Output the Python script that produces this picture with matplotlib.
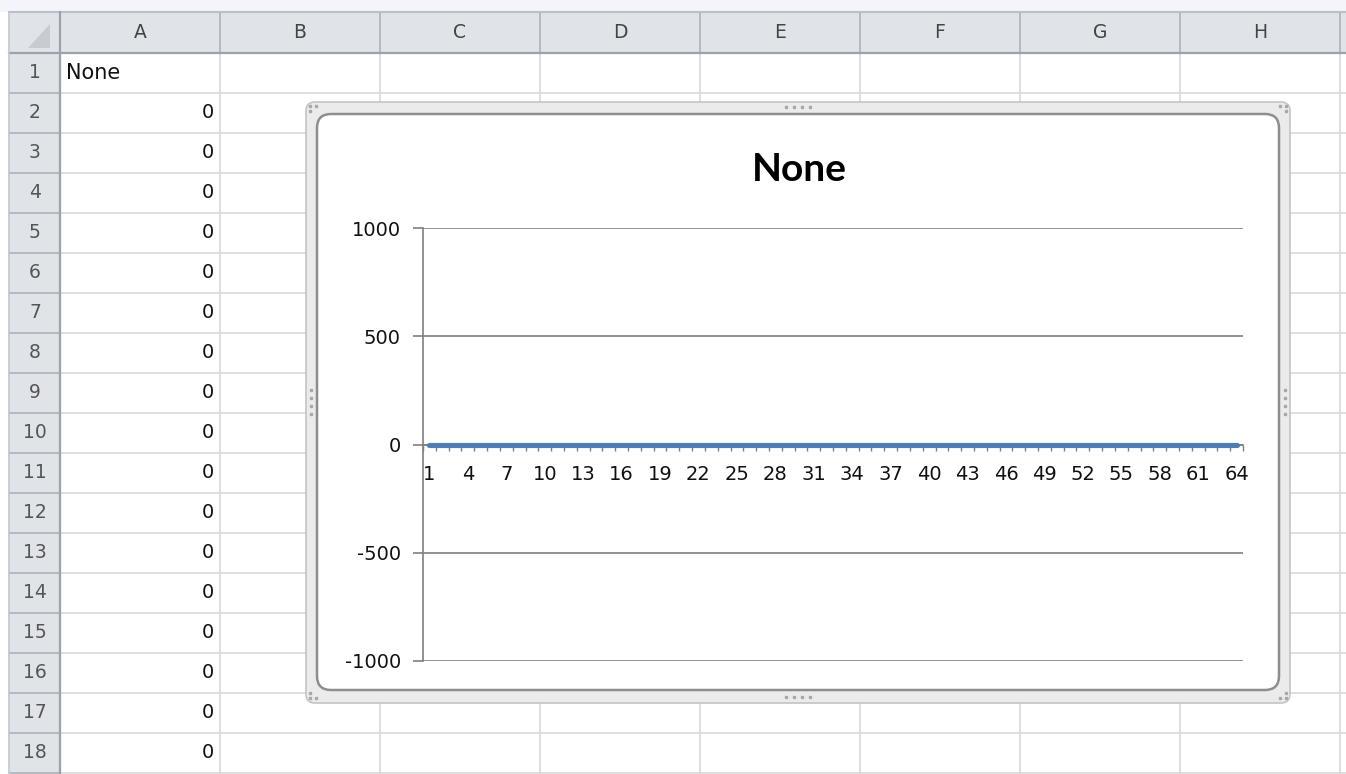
import matplotlib.pyplot as plt
from matplotlib.patches import Rectangle, FancyBboxPatch, Polygon

# Sheet contents
column_letters = ["A", "B", "C", "D", "E", "F", "G", "H"]
row_numbers = list(range(1, 19))
cell_a1 = "None"
column_a_values = [0, 0, 0, 0, 0, 0, 0, 0, 0, 0, 0, 0, 0, 0, 0, 0, 0]

# Chart contents
chart_title = "None"
categories = list(range(1, 65))
series_values = [0, 0, 0, 0, 0, 0, 0, 0, 0, 0, 0, 0, 0, 0, 0, 0,
                 0, 0, 0, 0, 0, 0, 0, 0, 0, 0, 0, 0, 0, 0, 0, 0,
                 0, 0, 0, 0, 0, 0, 0, 0, 0, 0, 0, 0, 0, 0, 0, 0,
                 0, 0, 0, 0, 0, 0, 0, 0, 0, 0, 0, 0, 0, 0, 0, 0]
y_ticks = [-1000, -500, 0, 500, 1000]
y_tick_labels = ["-1000", "-500", "0", "500", "1000"]

W, H = 1346, 774
HEADER_TOP, HEADER_BOTTOM = 12, 53
ROW_H = 40
COL_W = 160
ROWHEAD_LEFT, ROWHEAD_RIGHT = 9, 60


def main():
    plt.rcParams["font.family"] = ["DejaVu Sans"]
    fig = plt.figure(figsize=(W / 100, H / 100), dpi=100)
    bg = fig.add_axes([0, 0, 1, 1])
    bg.set_xlim(0, W)
    bg.set_ylim(H, 0)
    bg.axis("off")

    draw_sheet(bg)
    draw_chart_frame(bg)
    draw_chart(fig, bg)

    fig.savefig("out.png", dpi=100)


def draw_sheet(ax):
    """Spreadsheet grid, headers and column A values."""
    grid = "#d7dadd"
    head_fill = "#e0e3e8"
    head_line = "#b0b6be"
    head_border = "#9aa2ac"

    ax.add_patch(Rectangle((0, 0), W, HEADER_TOP, fc="#f4f5fa", ec="none"))
    ax.add_patch(Rectangle((ROWHEAD_LEFT, HEADER_TOP), W - ROWHEAD_LEFT, HEADER_BOTTOM - HEADER_TOP,
                           fc=head_fill, ec="none"))
    ax.add_patch(Rectangle((ROWHEAD_LEFT, HEADER_BOTTOM), ROWHEAD_RIGHT - ROWHEAD_LEFT, H - HEADER_BOTTOM,
                           fc=head_fill, ec="none"))

    # Cell gridlines
    col_edges = [ROWHEAD_RIGHT + COL_W * k for k in range(len(column_letters) + 1)]
    row_edges = [HEADER_BOTTOM + ROW_H * k for k in range(len(row_numbers) + 1)]
    for x in col_edges[1:]:
        ax.plot([x, x], [HEADER_BOTTOM, H], color=grid, lw=1.2)
        ax.plot([x, x], [HEADER_TOP, HEADER_BOTTOM], color=head_line, lw=1.3)
    for y in row_edges[1:]:
        ax.plot([ROWHEAD_RIGHT, W], [y, y], color=grid, lw=1.2)
        ax.plot([ROWHEAD_LEFT, ROWHEAD_RIGHT], [y, y], color=head_line, lw=1.3)

    # Header borders
    ax.plot([ROWHEAD_LEFT, W], [HEADER_TOP, HEADER_TOP], color="#b9c0cc", lw=1.5)
    ax.plot([ROWHEAD_LEFT, W], [HEADER_BOTTOM, HEADER_BOTTOM], color=head_border, lw=1.6)
    ax.plot([ROWHEAD_RIGHT, ROWHEAD_RIGHT], [HEADER_TOP, H], color=head_border, lw=1.6)
    ax.plot([ROWHEAD_LEFT, ROWHEAD_LEFT], [HEADER_TOP, H], color="#c3c8cf", lw=1.2)

    # Select-all corner triangle
    ax.add_patch(Polygon([(50, 24), (50, 48), (28, 48)], closed=True, fc="#c8ccd2", ec="none"))

    for k, letter in enumerate(column_letters):
        ax.text(ROWHEAD_RIGHT + COL_W * (k + 0.5), 33, letter, ha="center", va="center",
                fontsize=13.5, color="#444444")
    for k, num in enumerate(row_numbers):
        ax.text(35, HEADER_BOTTOM + ROW_H * (k + 0.5), str(num), ha="center", va="center",
                fontsize=13.5, color="#555555")

    ax.text(66, HEADER_BOTTOM + ROW_H * 0.5, cell_a1, ha="left", va="center", fontsize=15, color="#111111")
    for k, val in enumerate(column_a_values):
        ax.text(214, HEADER_BOTTOM + ROW_H * (k + 1.5), str(val), ha="right", va="center",
                fontsize=14, color="#111111")


def draw_chart_frame(ax):
    """Selected chart object border with its resize handles."""
    ax.add_patch(FancyBboxPatch((306, 102), 984, 601, boxstyle="round,pad=0,rounding_size=9",
                                fc="#ebebeb", ec="#c4c4c4", lw=1.2, zorder=5))
    ax.add_patch(FancyBboxPatch((317, 114), 962, 576, boxstyle="round,pad=0,rounding_size=14",
                                fc="white", ec="#8e8e8e", lw=1.8, zorder=6))

    dot = dict(marker="s", ms=1.6, color="#a8a8a8", ls="none", zorder=7)
    # corner handles
    ax.plot([310, 316, 310], [106, 106, 111], **dot)
    ax.plot([1286, 1280, 1286], [106, 106, 111], **dot)
    ax.plot([310, 316, 310], [698, 698, 693], **dot)
    ax.plot([1286, 1280, 1286], [698, 698, 693], **dot)
    # edge handles
    ax.plot([786, 794, 802, 810], [107, 107, 107, 107], **dot)
    ax.plot([786, 794, 802, 810], [697, 697, 697, 697], **dot)
    ax.plot([311, 311, 311, 311], [390, 398, 406, 414], **dot)
    ax.plot([1285, 1285, 1285, 1285], [390, 398, 406, 414], **dot)


def draw_chart(fig, bg):
    """Line chart inside the chart object."""
    axis_grey = "#7f7f7f"
    left, right, top, bottom = 423, 1243, 228, 661
    ax = fig.add_axes([left / W, 1 - bottom / H, (right - left) / W, (bottom - top) / H])
    ax.set_facecolor("none")
    ax.set_zorder(10)

    ax.plot(categories, series_values, color="#4a7ebb", lw=3.7, solid_capstyle="round",
            zorder=4, clip_on=False)

    ax.set_xlim(0.5, len(categories) + 0.5)
    ax.set_ylim(-1000, 1000)

    ax.set_yticks(y_ticks)
    ax.set_yticklabels(y_tick_labels)
    ax.yaxis.grid(True, color=axis_grey, lw=1.2)
    ax.tick_params(axis="y", length=7, width=1.2, color=axis_grey, pad=9, labelsize=14, labelcolor="#111111")

    ax.set_xticks(categories[::3])
    ax.set_xticklabels([str(c) for c in categories[::3]])
    ax.set_xticks([c - 0.5 for c in categories] + [categories[-1] + 0.5], minor=True)
    ax.tick_params(axis="x", which="major", length=0, pad=15, labelsize=14, labelcolor="#111111")
    ax.tick_params(axis="x", which="minor", length=4, width=1, color=axis_grey, direction="out")

    for side in ["top", "right"]:
        ax.spines[side].set_visible(False)
    ax.spines["left"].set_color(axis_grey)
    ax.spines["left"].set_linewidth(1.2)
    ax.spines["bottom"].set_position(("data", 0))
    ax.spines["bottom"].set_color(axis_grey)
    ax.spines["bottom"].set_linewidth(1.2)

    bg.text(799, 181, chart_title, ha="center", va="baseline", fontsize=28,
            fontweight="bold", family=["Lato", "DejaVu Sans"], color="#000000", zorder=8)


if __name__ == '__main__':
    main()
